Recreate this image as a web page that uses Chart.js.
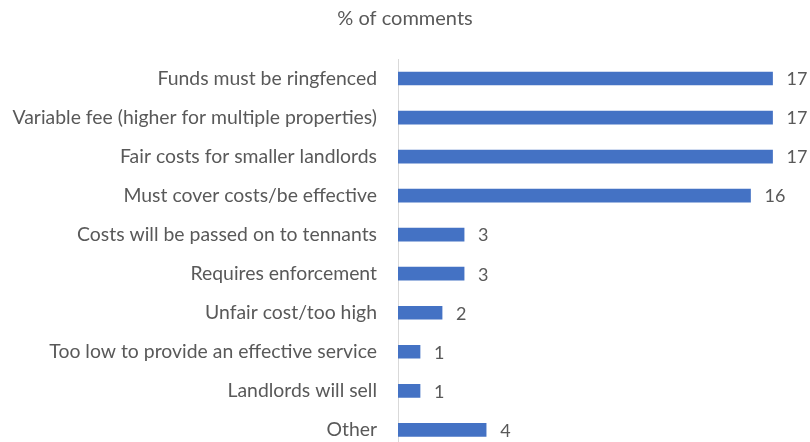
<!DOCTYPE html>
<html>
<head>
<meta charset="utf-8">
<script src="https://cdn.jsdelivr.net/npm/chart.js@4"></script>
<style>
  html, body { margin: 0; padding: 0; background: #fff; overflow: hidden; }
  canvas { display: block; }
</style>
</head>
<body>
<canvas id="chart" width="810" height="482"></canvas>
<script>
const categories = [
  'Funds must be ringfenced',
  'Variable fee (higher for multiple properties)',
  'Fair costs for smaller landlords',
  'Must cover costs/be effective',
  'Costs will be passed on to tennants',
  'Requires enforcement',
  'Unfair cost/too high',
  'Too low to provide an effective service',
  'Landlords will sell',
  'Other'
];
const percentComments = [17, 17, 17, 16, 3, 3, 2, 1, 1, 4];

const textColor = '#595959';
const fontFamily = 'Lato, "Open Sans", sans-serif';

// write the value just past the end of each bar
const valueLabels = {
  id: 'valueLabels',
  afterDatasetsDraw(chart) {
    const ctx = chart.ctx;
    const meta = chart.getDatasetMeta(0);
    ctx.save();
    ctx.fillStyle = textColor;
    ctx.font = '18px ' + fontFamily;
    ctx.textAlign = 'left';
    ctx.textBaseline = 'middle';
    meta.data.forEach((bar, i) => {
      ctx.fillText(percentComments[i], bar.x + 14, bar.y + 1);
    });
    ctx.restore();
  }
};

new Chart(document.getElementById('chart'), {
  type: 'bar',
  data: {
    labels: categories,
    datasets: [{
      label: '% of comments',
      data: percentComments,
      backgroundColor: '#4472C4',
      barThickness: 13
    }]
  },
  options: {
    indexAxis: 'y',
    responsive: false,
    animation: false,
    layout: { padding: { left: 0, right: 0, top: 0, bottom: 2 } },
    plugins: {
      legend: { display: false },
      tooltip: { enabled: false },
      title: {
        display: true,
        text: '% of comments',
        color: textColor,
        font: { family: fontFamily, size: 20, weight: 'normal' },
        padding: { top: 7, bottom: 28 }
      }
    },
    scales: {
      x: {
        display: false,
        min: 0,
        max: 18.7
      },
      y: {
        afterFit(scale) { scale.width = 398; },
        grid: { display: false, drawTicks: false },
        border: { display: true, color: '#d9d9d9', width: 1 },
        ticks: {
          color: textColor,
          padding: 21,
          font: { family: fontFamily, size: 19.4 }
        }
      }
    }
  },
  plugins: [valueLabels]
});
</script>
</body>
</html>
